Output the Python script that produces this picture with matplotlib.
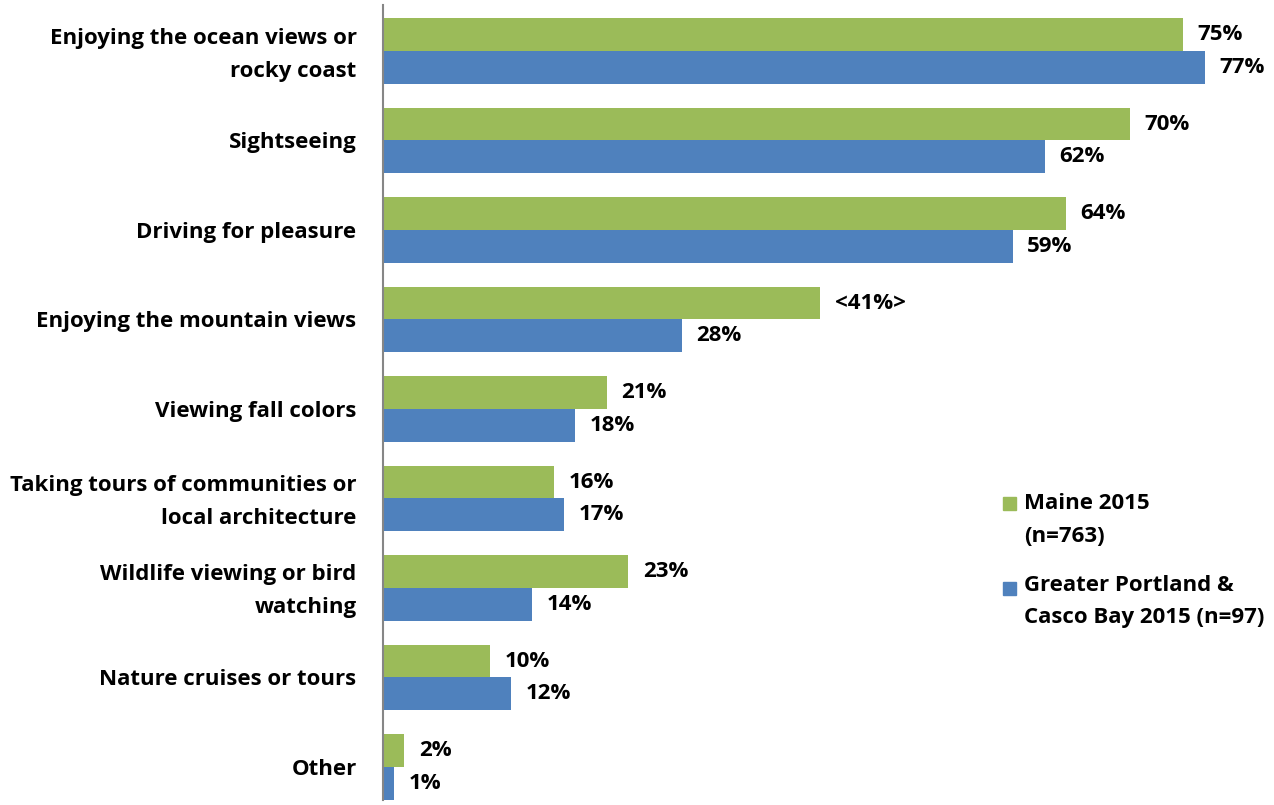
import matplotlib
matplotlib.use("Agg")
import matplotlib.pyplot as plt
import matplotlib.transforms as mtransforms
from matplotlib.patches import Rectangle
import numpy as np

categories = [
    "Enjoying the ocean views or\nrocky coast",
    "Sightseeing",
    "Driving for pleasure",
    "Enjoying the mountain views",
    "Viewing fall colors",
    "Taking tours of communities or\nlocal architecture",
    "Wildlife viewing or bird\nwatching",
    "Nature cruises or tours",
    "Other",
]
maine = [75, 70, 64, 41, 21, 16, 23, 10, 2]
portland = [77, 62, 59, 28, 18, 17, 14, 12, 1]
maine_labels = ["75%", "70%", "64%", "<41%>", "21%", "16%", "23%", "10%", "2%"]
portland_labels = ["77%", "62%", "59%", "28%", "18%", "17%", "14%", "12%", "1%"]
series_names = [["Maine 2015", "(n=763)"], ["Greater Portland &", "Casco Bay 2015 (n=97)"]]

GREEN = "#9BBB59"
BLUE = "#4F81BD"
FONT = "Open Sans"
FS = 16

plt.rcParams["font.family"] = [FONT, "DejaVu Sans"]
plt.rcParams["font.weight"] = "bold"

W, H = 1274, 805
fig = plt.figure(figsize=(W / 100, H / 100), dpi=100)
left_px, top_px, bottom_px = 383, 5, 800
ax = fig.add_axes([left_px / W, 1 - bottom_px / H, 1 - left_px / W, (bottom_px - top_px) / H])

y = np.arange(len(categories))
h = 0.365
ax.barh(y - h / 2, maine, height=h, color=GREEN, edgecolor="none")
ax.barh(y + h / 2, portland, height=h, color=BLUE, edgecolor="none")

px_per_unit = 10.67
ax.set_xlim(0, (W - left_px) / px_per_unit)
ax.set_ylim(8.369, -0.514)

for yi, v, lab in zip(y, maine, maine_labels):
    ax.annotate(lab, (v, yi - h / 2), xytext=(10.5, 0), textcoords="offset points",
                ha="left", va="center", fontsize=FS, fontweight="bold", color="black")
for yi, v, lab in zip(y, portland, portland_labels):
    ax.annotate(lab, (v, yi + h / 2), xytext=(10.5, 0), textcoords="offset points",
                ha="left", va="center", fontsize=FS, fontweight="bold", color="black")

ax.set_yticks(y)
ax.set_yticklabels(categories, fontsize=FS, fontweight="bold", ha="right",
                   linespacing=1.75)
ax.tick_params(axis="y", length=0, pad=19)
# nudge two-line labels up so both lines sit evenly around the group centre
for lbl in ax.get_yticklabels():
    if "\n" in lbl.get_text():
        lbl.set_transform(lbl.get_transform() +
                          mtransforms.ScaledTranslation(0, 0.05, fig.dpi_scale_trans))
ax.set_xticks([])
for side in ["top", "right", "bottom"]:
    ax.spines[side].set_visible(False)
ax.spines["left"].set_color("#868686")
ax.spines["left"].set_linewidth(1.5)

# legend
for sq_y, line_ys, col, lines in zip([497, 582], [(503, 536), (585, 617)],
                                     [GREEN, BLUE], series_names):
    fig.patches.append(Rectangle((1003 / W, 1 - (sq_y + 13) / H), 13 / W, 13 / H,
                                 transform=fig.transFigure, color=col, figure=fig))
    for ly, line in zip(line_ys, lines):
        fig.text(1024 / W, 1 - ly / H, line, ha="left", va="center", fontsize=FS,
                 fontweight="bold")

fig.savefig("out.png", dpi=100)
